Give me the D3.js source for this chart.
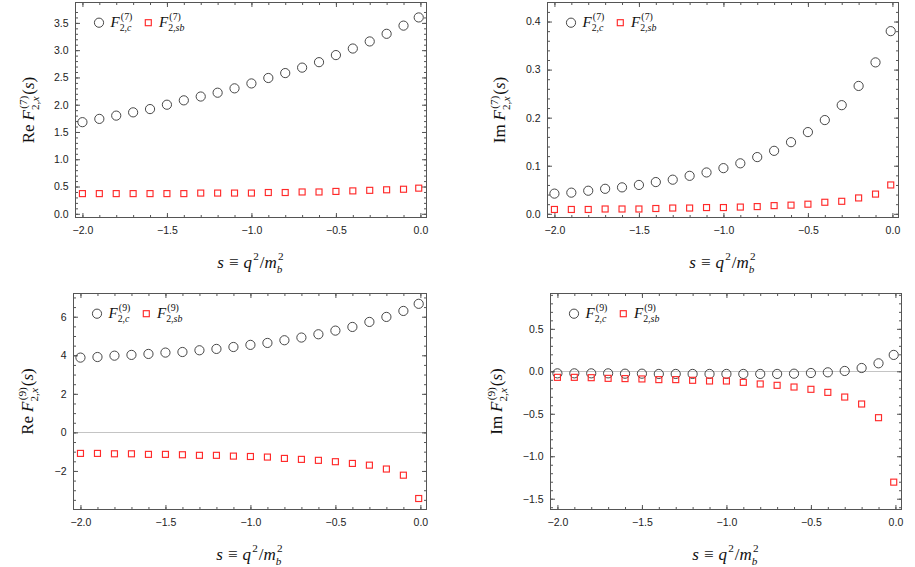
<!DOCTYPE html>
<html>
<head>
<meta charset="utf-8">
<script src="https://cdn.jsdelivr.net/npm/d3@7"></script>
<style>
  body { margin: 0; background: #fff; }
</style>
</head>
<body>
<div id="chart"></div>
<script>

// x values: s = q^2 / m_b^2
var sVals = [-2.0, -1.9, -1.8, -1.7, -1.6, -1.5, -1.4, -1.3, -1.2, -1.1, -1.0,
             -0.9, -0.8, -0.7, -0.6, -0.5, -0.4, -0.3, -0.2, -0.1, -0.01];

// F_2^(7)
var re7c  = [1.68, 1.74, 1.80, 1.86, 1.92, 2.00, 2.08, 2.15, 2.22, 2.30, 2.39,
             2.49, 2.58, 2.68, 2.78, 2.91, 3.03, 3.16, 3.30, 3.45, 3.60];
var re7sb = [0.37, 0.37, 0.37, 0.37, 0.37, 0.37, 0.37, 0.38, 0.38, 0.38, 0.38,
             0.39, 0.39, 0.40, 0.40, 0.41, 0.42, 0.43, 0.44, 0.45, 0.47];
var im7c  = [0.042, 0.044, 0.048, 0.052, 0.055, 0.060, 0.066, 0.071, 0.079, 0.086, 0.095,
             0.105, 0.118, 0.131, 0.149, 0.170, 0.195, 0.226, 0.266, 0.315, 0.380];
var im7sb = [0.009, 0.009, 0.009, 0.010, 0.010, 0.010, 0.011, 0.012, 0.012, 0.013, 0.013,
             0.014, 0.015, 0.017, 0.018, 0.020, 0.024, 0.026, 0.033, 0.041, 0.060];

// F_2^(9)
var re9c  = [3.88, 3.91, 3.98, 4.02, 4.07, 4.14, 4.17, 4.26, 4.33, 4.43, 4.54,
             4.64, 4.78, 4.92, 5.09, 5.28, 5.47, 5.73, 5.99, 6.30, 6.67];
var re9sb = [-1.09, -1.09, -1.11, -1.11, -1.14, -1.14, -1.16, -1.19, -1.19, -1.23, -1.25,
             -1.28, -1.35, -1.40, -1.45, -1.52, -1.61, -1.70, -1.90, -2.22, -3.43];
var im9c  = [-0.024, -0.024, -0.024, -0.024, -0.028, -0.028, -0.031, -0.031, -0.031, -0.031, -0.031,
             -0.031, -0.031, -0.031, -0.028, -0.020, -0.012, 0.004, 0.039, 0.094, 0.193];
var im9sb = [-0.071, -0.071, -0.075, -0.083, -0.086, -0.090, -0.098, -0.098, -0.106, -0.114, -0.114,
             -0.130, -0.149, -0.165, -0.185, -0.212, -0.248, -0.303, -0.385, -0.546, -1.305];

// tick labels
var xTicks    = [-2.0, -1.5, -1.0, -0.5, 0.0];
var yTicksRe7 = [0.0, 0.5, 1.0, 1.5, 2.0, 2.5, 3.0, 3.5];
var yTicksIm7 = [0.0, 0.1, 0.2, 0.3, 0.4];
var yTicksRe9 = [-2, 0, 2, 4, 6];
var yTicksIm9 = [-1.5, -1.0, -0.5, 0.0, 0.5];

var W = 915, H = 567;
var serif = "'Liberation Serif', 'Times New Roman', serif";
var sans  = "'Liberation Sans', Arial, Helvetica, sans-serif";
var frameCol = "#555";
var redCol = "#ff2a2a";

var svg = d3.select("#chart").append("svg")
  .attr("width", W).attr("height", H);

var panels = [
  { x0: 75.5, x1: 426.5, y0: 2.5, y1: 217.5, yDom: [-0.068, 3.874],
    yTicks: yTicksRe7, fmt: ".1f", minor: [0, 3.8, 0.1],
    c: re7c, sb: re7sb, part: "Re", k: "7", labX: 34, zero: false },
  { x0: 547.5, x1: 898.5, y0: 2.5, y1: 217.5, yDom: [-0.0077, 0.4396],
    yTicks: yTicksIm7, fmt: ".1f", minor: [0, 0.43, 0.02],
    c: im7c, sb: im7sb, part: "Im", k: "7", labX: 505, zero: false },
  { x0: 73.5, x1: 426.5, y0: 293.5, y1: 509.5, yDom: [-4.0, 7.205],
    yTicks: yTicksRe9, fmt: "d", minor: [-3.5, 7.1, 0.5],
    c: re9c, sb: re9sb, part: "Re", k: "9", labX: 33, zero: true },
  { x0: 550.5, x1: 901.5, y0: 293.5, y1: 509.5, yDom: [-1.627, 0.916],
    yTicks: yTicksIm9, fmt: ".1f", minor: [-1.6, 0.91, 0.1],
    c: im9c, sb: im9sb, part: "Im", k: "9", labX: 502, zero: true }
];

// lay out a small math expression; returns its width
function runs(g, list, x, y, fs) {
  var t = g.append("text").attr("x", x).attr("y", y).style("font-size", fs + "px");
  list.forEach(function(r) {
    t.append("tspan").attr("font-style", r.i ? "italic" : "normal").text(r.t);
  });
  return t.node().getComputedTextLength();
}
function mathText(g, pieces, fs) {
  var x = 0;
  pieces.forEach(function(p) {
    if (p.gap) { x += p.gap; return; }
    if (p.sup || p.sub) {
      var w = 0;
      if (p.sup) w = Math.max(w, runs(g, p.sup, x + 1.2, -0.42 * fs, 0.66 * fs) + 1.2);
      if (p.sub) w = Math.max(w, runs(g, p.sub, x, 0.3 * fs, 0.66 * fs));
      x += w + 1;
    } else {
      x += runs(g, [p], x, 0, fs);
    }
  });
  return x;
}

panels.forEach(function(p) {
  var x = d3.scaleLinear().domain([-2.041, 0.036]).range([p.x0, p.x1]);
  var y = d3.scaleLinear().domain(p.yDom).range([p.y1, p.y0]);
  var g = svg.append("g");

  // zero line
  if (p.zero) {
    var zy = Math.round(y(0)) + 0.5;
    g.append("line")
      .attr("x1", p.x0).attr("x2", p.x1)
      .attr("y1", zy).attr("y2", zy)
      .attr("stroke", "#c4c4c4").attr("stroke-width", 1);
  }

  var xMinor = d3.range(-2.0, 0.001, 0.1);
  var yMinor = d3.range(p.minor[0], p.minor[1], p.minor[2]);

  function styleAxis(a) {
    a.select(".domain").remove();
    a.selectAll("line").attr("stroke", frameCol);
    a.selectAll("text").attr("font-family", sans).attr("font-size", 10.5).attr("fill", "#222");
  }

  // minor ticks (all four sides)
  [[d3.axisBottom(x), "translate(0," + p.y1 + ")", xMinor],
   [d3.axisTop(x), "translate(0," + p.y0 + ")", xMinor],
   [d3.axisLeft(y), "translate(" + p.x0 + ",0)", yMinor],
   [d3.axisRight(y), "translate(" + p.x1 + ",0)", yMinor]].forEach(function(d) {
    g.append("g").attr("transform", d[1])
      .call(d[0].tickValues(d[2]).tickSize(-2.5).tickFormat(""))
      .call(styleAxis);
  });

  // major ticks with labels
  g.append("g").attr("transform", "translate(0," + p.y1 + ")")
    .call(d3.axisBottom(x).tickValues(xTicks).tickSize(-4.5).tickPadding(9).tickFormat(d3.format(".1f")))
    .call(styleAxis);
  g.append("g").attr("transform", "translate(0," + p.y0 + ")")
    .call(d3.axisTop(x).tickValues(xTicks).tickSize(-4.5).tickFormat(""))
    .call(styleAxis);
  g.append("g").attr("transform", "translate(" + p.x0 + ",0)")
    .call(d3.axisLeft(y).tickValues(p.yTicks).tickSize(-4.5).tickPadding(7).tickFormat(d3.format(p.fmt)))
    .call(styleAxis);
  g.append("g").attr("transform", "translate(" + p.x1 + ",0)")
    .call(d3.axisRight(y).tickValues(p.yTicks).tickSize(-4.5).tickFormat(""))
    .call(styleAxis);

  // frame
  g.append("rect")
    .attr("x", p.x0).attr("y", p.y0)
    .attr("width", p.x1 - p.x0).attr("height", p.y1 - p.y0)
    .attr("fill", "none").attr("stroke", frameCol).attr("stroke-width", 1);

  // points: F_2,c circles, F_2,sb squares
  g.append("g").selectAll("circle")
    .data(p.c).enter().append("circle")
      .attr("cx", function(d, i) { return x(sVals[i]); })
      .attr("cy", function(d) { return y(d); })
      .attr("r", 4.6)
      .attr("fill", "none").attr("stroke", "#333").attr("stroke-width", 0.9);

  var sq = 6;
  g.append("g").selectAll("rect")
    .data(p.sb).enter().append("rect")
      .attr("x", function(d, i) { return x(sVals[i]) - sq / 2; })
      .attr("y", function(d) { return y(d) - sq / 2; })
      .attr("width", sq).attr("height", sq)
      .attr("fill", "none").attr("stroke", redCol).attr("stroke-width", 1.15);

  // legend
  var ly = p.y0 + 20.2;
  g.append("circle").attr("cx", p.x0 + 23.5).attr("cy", ly).attr("r", 4.6)
    .attr("fill", "none").attr("stroke", "#333").attr("stroke-width", 0.9);
  g.append("rect").attr("x", p.x0 + 72.8 - sq / 2).attr("y", ly - sq / 2)
    .attr("width", sq).attr("height", sq)
    .attr("fill", "none").attr("stroke", redCol).attr("stroke-width", 1.15);
  var l1 = g.append("g").attr("font-family", serif).attr("fill", "#111")
    .attr("transform", "translate(" + (p.x0 + 35) + "," + (ly + 4) + ")");
  mathText(l1, [{ t: "F", i: true },
    { sup: [{ t: "(" + p.k + ")" }], sub: [{ t: "2," }, { t: "c", i: true }] }], 15);
  var l2 = g.append("g").attr("font-family", serif).attr("fill", "#111")
    .attr("transform", "translate(" + (p.x0 + 83.5) + "," + (ly + 4) + ")");
  mathText(l2, [{ t: "F", i: true },
    { sup: [{ t: "(" + p.k + ")" }], sub: [{ t: "2," }, { t: "sb", i: true }] }], 15);

  // x axis label
  var xl = g.append("g").attr("font-family", serif).attr("fill", "#111");
  var xw = mathText(xl, [{ t: "s", i: true }, { gap: 5 }, { t: "≡" }, { gap: 5 },
    { t: "q", i: true }, { sup: [{ t: "2" }] }, { t: "/" }, { t: "m", i: true },
    { sup: [{ t: "2" }], sub: [{ t: "b", i: true }] }], 17);
  xl.attr("transform", "translate(" + ((p.x0 + p.x1) / 2 - xw / 2) + "," + (p.y1 + 50) + ")");

  // y axis label (rotated)
  var yo = g.append("g")
    .attr("transform", "translate(" + p.labX + "," + ((p.y0 + p.y1) / 2) + ") rotate(-90)");
  var yl = yo.append("g").attr("font-family", serif).attr("fill", "#111");
  var yw = mathText(yl, [{ t: p.part }, { gap: 4 }, { t: "F", i: true },
    { sup: [{ t: "(" + p.k + ")" }], sub: [{ t: "2," }, { t: "x", i: true }] },
    { t: "(" }, { t: "s", i: true }, { t: ")" }], 17);
  yl.attr("transform", "translate(" + (-yw / 2) + ",0)");
});

</script>
</body>
</html>
